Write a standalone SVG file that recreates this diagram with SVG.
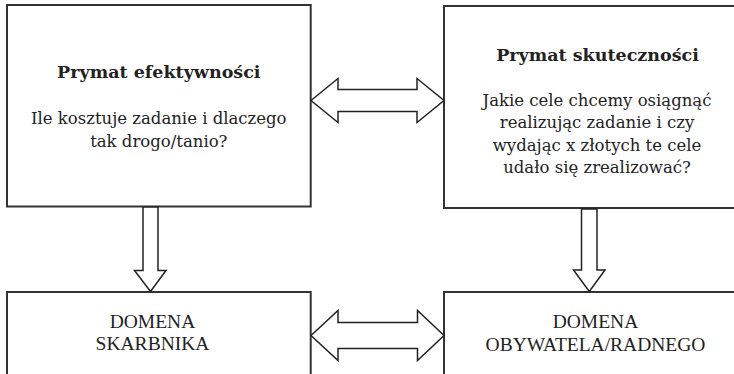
<svg xmlns="http://www.w3.org/2000/svg" width="734" height="374" viewBox="0 0 734 374">
<style>
.box{fill:#fff;stroke:#333;stroke-width:2}
.arr{fill:#fff;stroke:#222;stroke-width:1.5;stroke-linejoin:miter}
.t{font-family:"DejaVu Serif","Liberation Serif",serif;font-size:16.5px;fill:#222;text-anchor:middle}
.b{font-weight:bold;font-size:17.5px}
.c{font-family:"Liberation Serif","DejaVu Serif",serif;font-size:19.5px;fill:#222;text-anchor:middle}
</style>
<rect width="734" height="374" fill="#fff"/>
<g id="node-efektywnosc">
<rect class="box" x="7" y="5" width="303.7" height="201.5"/>
<text class="t b" x="158.8" y="77.5">Prymat efektywności</text>
<text class="t" x="158.8" y="123.5">Ile kosztuje zadanie i dlaczego</text>
<text class="t" x="158.8" y="146.5">tak drogo/tanio?</text>
</g>
<g id="node-skutecznosc">
<rect class="box" x="444" y="6" width="330" height="202"/>
<text class="t b" x="597.5" y="60.5">Prymat skuteczności</text>
<text class="t" x="597" y="105.5">Jakie cele chcemy osiągnąć</text>
<text class="t" x="597" y="128">realizując zadanie i czy</text>
<text class="t" x="597" y="150.5">wydając x złotych te cele</text>
<text class="t" x="597" y="173">udało się zrealizować?</text>
</g>
<g id="node-skarbnik">
<rect class="box" x="7" y="292" width="303.7" height="100"/>
<text class="c" x="152.5" y="328">DOMENA</text>
<text class="c" x="152.5" y="349.5">SKARBNIKA</text>
</g>
<g id="node-obywatel">
<rect class="box" x="444" y="292" width="330" height="100"/>
<text class="c" x="595.5" y="328">DOMENA</text>
<text class="c" x="595.5" y="350.5">OBYWATELA/RADNEGO</text>
</g>
<g id="connectors">
<polygon class="arr" points="311,100.5 338,78.5 338,89.5 417,89.5 417,78.5 444,100.5 417,122.5 417,111.5 338,111.5 338,122.5"/>
<polygon class="arr" points="311,335.5 338,310.5 338,322.5 417.5,322.5 417.5,310.5 444,335.5 417.5,360.5 417.5,348.5 338,348.5 338,360.5"/>
<polygon class="arr" points="143,207 158,207 158,270.5 166,270.5 150.5,291.5 134.5,270.5 143,270.5"/>
<polygon class="arr" points="581.5,209 597,209 597,270 605,270 589.3,291.5 573.5,270 581.5,270"/>
</g>
</svg>
